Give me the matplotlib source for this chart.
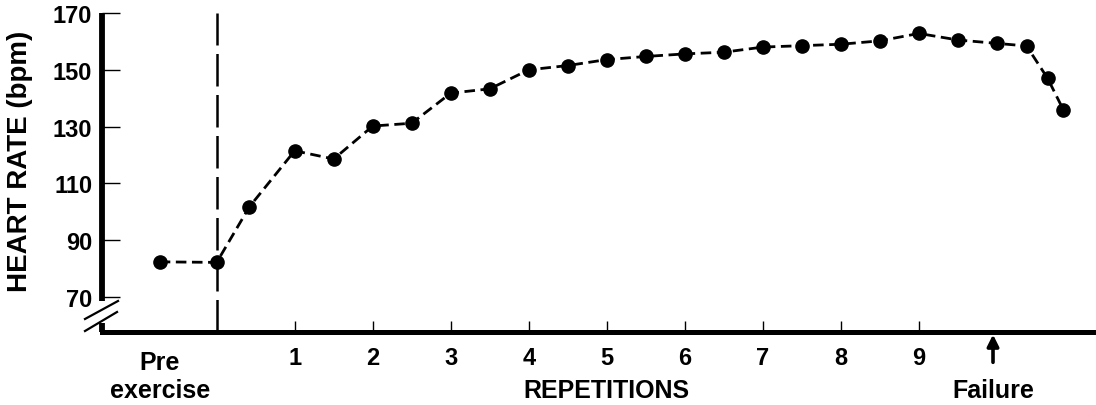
import numpy as np
import matplotlib.pyplot as plt

plt.rcParams['font.family'] = ['Liberation Sans', 'DejaVu Sans']
plt.rcParams['font.weight'] = 'bold'

# x position in repetitions (0 = start of exercise, pre-exercise sits left of it)
reps = [-0.73, 0, 0.42, 1, 1.5, 2, 2.5, 3, 3.5, 4, 4.5, 5, 5.5, 6, 6.5,
        7, 7.5, 8, 8.5, 9, 9.5, 10, 10.38, 10.65, 10.85]
heart_rate = [82.4, 82.2, 101.8, 121.5, 118.6, 130.2, 131.2, 141.8, 143.3,
              150, 151.5, 153.6, 154.7, 155.6, 156.2, 158, 158.5, 159,
              160.2, 162.8, 160.5, 159.3, 158.4, 147, 136]
rep_ticks = [1, 2, 3, 4, 5, 6, 7, 8, 9]
hr_ticks = [70, 90, 110, 130, 150, 170]
pre_rep = -0.73
failure_rep = 9.95

fig = plt.figure(figsize=(10.96, 4.06), dpi=100)
ax = fig.add_axes([102 / 1096, 73 / 406, 994 / 1096, 319 / 406])

ax.plot(reps, heart_rate, color='black', lw=2.0, ls=(0, (3.8, 2.0)),
        marker='o', ms=9.5, mfc='black', mec='black', clip_on=False, zorder=3)
ax.axvline(0, color='black', lw=1.8, ls=(0, (13, 3.4)), zorder=2)

xmin, xmax = -1.47, 11.27
ymin, ymax = 57.7, 170
ax.set_xlim(xmin, xmax)
ax.set_ylim(ymin, ymax)

for s in ['top', 'right', 'left']:
    ax.spines[s].set_visible(False)
ax.spines['bottom'].set_linewidth(3.6)

# y axis drawn in two pieces with a break
ax.plot([xmin, xmin], [68.6, ymax], color='black', lw=4.2,
        solid_capstyle='butt', clip_on=False, zorder=4)
ax.plot([xmin, xmin], [ymin, 60.9], color='black', lw=4.2,
        solid_capstyle='butt', clip_on=False, zorder=4)
ax.plot([-0.0171, 0.0161], [0.0408, 0.0972], color='black', lw=1.6,
        transform=ax.transAxes, clip_on=False)
ax.plot([-0.0171, 0.0151], [0.0031, 0.0627], color='black', lw=1.6,
        transform=ax.transAxes, clip_on=False)

ax.set_yticks(hr_ticks)
ax.set_xticks(rep_ticks)
ax.tick_params(axis='y', direction='in', length=13, width=1.0, pad=7, labelsize=17)
ax.tick_params(axis='x', direction='in', length=8, width=1.0, pad=10, labelsize=17)

tr = ax.get_xaxis_transform()
ax.text(pre_rep, -0.116, 'Pre', transform=tr, ha='center', va='baseline', fontsize=18)
ax.text(pre_rep, -0.204, 'exercise', transform=tr, ha='center', va='baseline', fontsize=18)
ax.text(5.0, -0.204, 'REPETITIONS', transform=tr, ha='center', va='baseline', fontsize=18)
ax.text(failure_rep, -0.204, 'Failure', transform=tr, ha='center', va='baseline', fontsize=18)
ax.annotate('', xy=(failure_rep, -0.008), xytext=(failure_rep, -0.095),
            xycoords=tr, textcoords=tr,
            arrowprops=dict(arrowstyle='-|>', color='black', lw=2.6, mutation_scale=17,
                            shrinkA=0, shrinkB=0))

fig.text(20 / 1096, (406 - 161) / 406, 'HEART RATE (bpm)', rotation=90,
         ha='center', va='center', fontsize=20)

fig.savefig('out.png', dpi=100)
